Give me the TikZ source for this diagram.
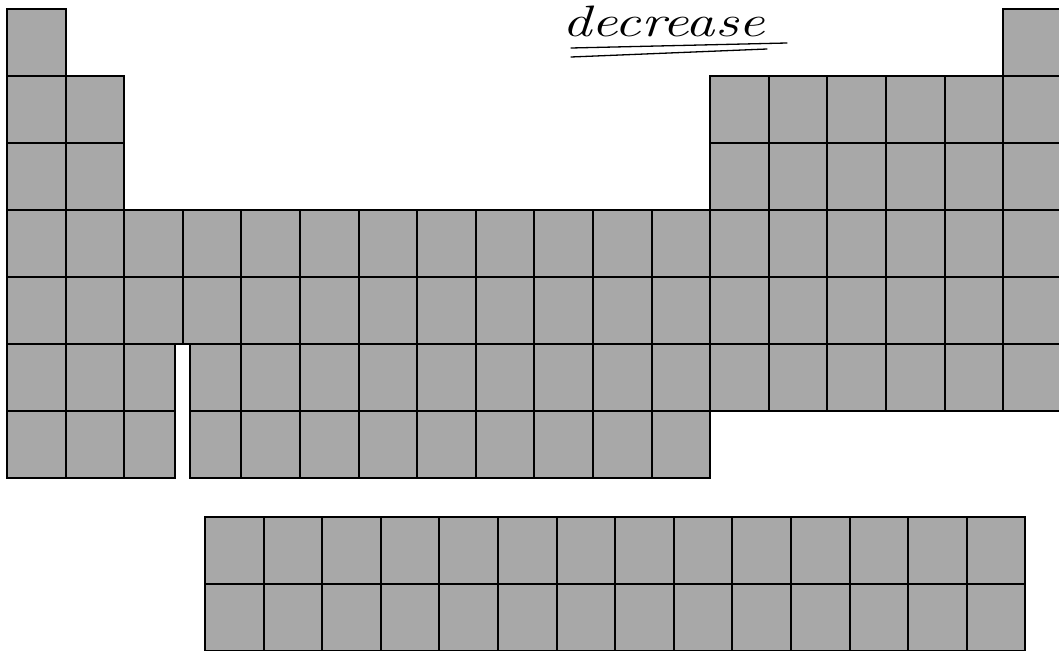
\documentclass[tikz,border=0pt]{standalone}
\usetikzlibrary{positioning}
\definecolor{cellgray}{gray}{0.66}

\begin{document}
\begin{tikzpicture}[
    x=1pt, y=-1pt,
    cell/.style={rectangle, draw, line width=2pt, fill=cellgray, minimum width=58.6pt,
                 minimum height=67pt, inner sep=0pt, outer sep=0pt, anchor=north west},
    narrowcell/.style={cell, minimum width=51pt},
    hand/.style={font=\fontsize{44}{44}\selectfont\itshape, inner sep=0pt, anchor=base west}
]
\useasboundingbox (0,0) rectangle (1059,650);

% main block, periods 1--7
\foreach \c in {1,18} \node[cell] (p1-\c) at ({7+(\c-1)*58.6},9) {};
\foreach \r in {2,3}
  \foreach \c in {1,2,13,14,...,18} \node[cell] (p\r-\c) at ({7+(\c-1)*58.6},{9+(\r-1)*67}) {};
\foreach \r in {4,5}
  \foreach \c in {1,...,18} \node[cell] (p\r-\c) at ({7+(\c-1)*58.6},{9+(\r-1)*67}) {};
\foreach \r/\last in {6/18,7/12} {
  \foreach \c in {1,2} \node[cell] (p\r-\c) at ({7+(\c-1)*58.6},{9+(\r-1)*67}) {};
  \node[narrowcell] (p\r-3) at (124.2,{9+(\r-1)*67}) {};
  \node[narrowcell] (p\r-4) at (190,{9+(\r-1)*67}) {};
  \foreach \c in {5,...,\last} \node[cell] (p\r-\c) at ({7+(\c-1)*58.6},{9+(\r-1)*67}) {};
}

% f-block below
\foreach \r in {0,1}
  \foreach \c in {0,...,13} \node[cell] (f\r-\c) at ({205+\c*58.6},{517+\r*67}) {};

% handwritten note
\node[hand] (decr) at (562,37) {\scalebox{1.33}[1]{decrease}};
\draw[line width=1.3pt, line cap=round] (571,48) -- (787,43);
\draw[line width=1.3pt, line cap=round] (571,57) -- (767,49);
\end{tikzpicture}
\end{document}
